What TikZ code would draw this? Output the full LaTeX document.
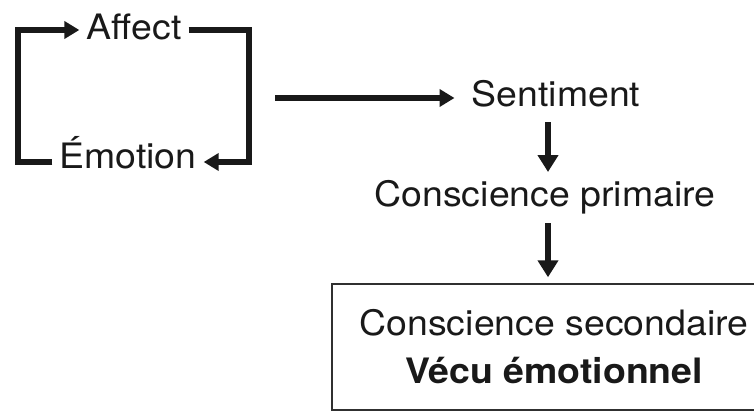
\documentclass[tikz,border=0pt]{standalone}
\usepackage{fontspec}
\setmainfont{TeX Gyre Heros}[FakeStretch=1.07]
\usepackage{tikz}
\usetikzlibrary{arrows.meta}
\definecolor{ink}{gray}{0.1}

\begin{document}
\begin{tikzpicture}[
x = 1pt, y = -1pt,
txt/.style={inner xsep = 7pt, inner ysep = 4pt, text = ink, font = \fontsize{35}{48}\selectfont},
loopar/.style={>={Triangle[length=15pt, width=17pt]}, ->, line width = 5.5pt, draw = ink},
downar/.style={>={Triangle[length=17pt, width=20pt]}, ->, line width = 6pt, draw = ink},
secbox/.style={rectangle, align = center, draw = ink!90, line width = 1.5pt, minimum width = 444pt, minimum height = 126pt}]

\useasboundingbox (0,0) rectangle (754,412);

% loop
\node[txt, anchor = base] (A) at (134,40) {Affect};
\node[txt, anchor = base] (E) at (128,168) {Émotion};
\coordinate (L) at (18,100);
\coordinate (R) at (249,100);
\draw[loopar] ([yshift=6pt]E.base west) -| (L) |- ([yshift=10pt]A.base west);
\draw[loopar] ([yshift=10pt]A.base east) -| (R) |- ([yshift=6pt]E.base east);

% chain
\node[txt, anchor = base] (S) at (556,106) {Sentiment};
\node[txt, anchor = base] (P) at (545,206) {Conscience primaire};
\node[secbox, txt] (B) at (554,347) {Conscience secondaire\\{\bfseries Vécu émotionnel}};
\coordinate (start) at (275,98);
\coordinate (col) at (548,0);
\draw[loopar] (start) -- ([xshift=-10pt, yshift=8pt]S.base west);
\draw[downar, shorten <=16pt, shorten >=34pt] (S.base -| col) -- (P.base -| col);
\draw[downar, shorten <=17pt, shorten >=6pt] (P.base -| col) -- (B.north -| col);
%\draw[loopar] (start) -- (S);

\end{tikzpicture}
\end{document}
